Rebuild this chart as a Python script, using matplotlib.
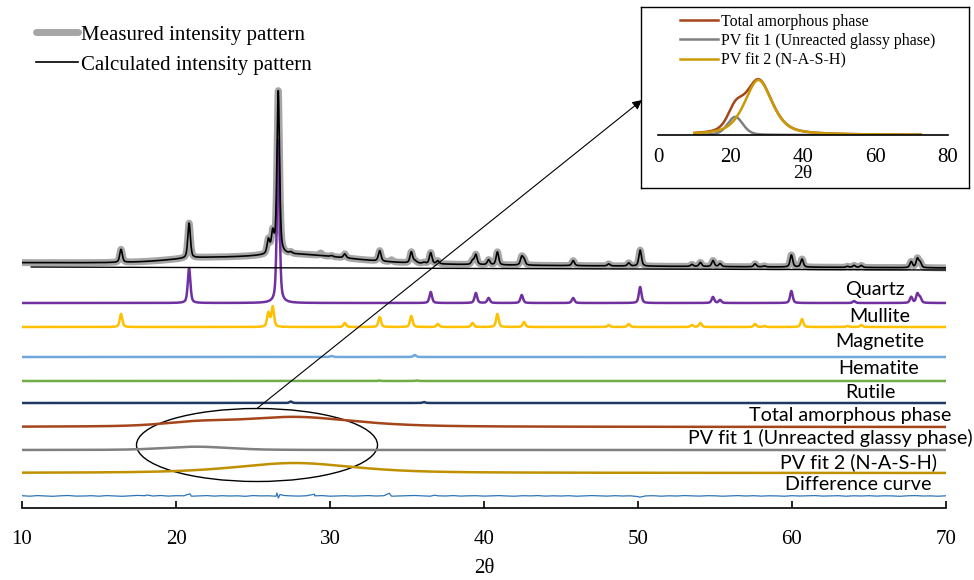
import numpy as np
import matplotlib.pyplot as plt
from matplotlib.patches import Ellipse

# Crystalline reflections: 2-theta position (deg) and peak height (plot units)
quartz_pos = [20.85, 26.64, 36.54, 39.47, 40.30, 42.45, 45.79, 50.14, 54.87,
              55.33, 59.96, 64.03, 67.74, 68.14, 68.32]
quartz_height = [35, 163, 11, 10, 5, 8, 5, 16, 6, 3, 12, 2, 6, 9, 5]

mullite_pos = [16.43, 26.00, 26.28, 30.96, 33.23, 35.28, 37.00, 39.26, 40.87,
               42.60, 48.10, 49.40, 53.50, 54.05, 57.60, 58.20, 60.65, 63.60, 64.50]
mullite_height = [13, 14, 20, 4, 10, 11, 3, 4, 13, 5, 2, 3, 2, 4, 3, 1, 8, 1, 2]

magnetite_pos = [30.10, 35.50]
magnetite_height = [1.0, 2.0]
hematite_pos = [33.20, 35.65]
hematite_height = [0.5, 0.5]
rutile_pos = [27.45, 36.10]
rutile_height = [1.5, 1.0]

# reflections seen in the measured pattern but not fitted
unassigned_pos = [29.40, 34.00]
unassigned_height = [2.5, 2.0]

# amorphous hump: two pseudo-Voigt components (centre, height, fwhm, eta)
pv1_params = (21.3, 3.3, 5.0, 0.3)
pv2_params = (27.7, 10.0, 9.0, 0.55)

# sloping background under the measured pattern (value at 10 and 70 deg)
background_ends = [245, 240]
bg_line_x = [10.6, 70.0]
bg_line_y = [241, 238]

# difference curve: residual every 0.5 deg plus a few sharp residual spikes
diff_jitter = [
    0.3, -0.2, 0.4, 0.1, -0.3, 0.2, 0.5, -0.1, 0.0, 0.3,
    -0.2, 0.4, 0.1, -0.3, 0.2, 0.6, 0.3, 0.0, 0.5, -0.1,
    0.3, 0.2, -0.2, 0.1, 0.4, -0.1, 0.3, 0.0, 0.2, -0.3,
    0.4, 0.1, 0.2, -0.2, 0.5, 0.1, -0.1, 0.3, 0.2, 0.4,
    -0.2, 0.1, 0.3, -0.1, 0.2, 0.4, 0.0, 0.3, -0.2, 0.1,
    0.3, 0.5, 0.1, -0.2, 0.2, 0.0, 0.4, -0.1, 0.2, 0.3,
    -0.1, 0.2, 0.4, 0.0, -0.2, 0.3, 0.1, 0.4, -0.1, 0.2,
    0.0, 0.3, -0.2, 0.1, 0.4, 0.2, -0.1, 0.3, 0.0, 0.2,
    -0.6, 0.1, 0.3, -0.2, 0.2, 0.0, 0.4, 0.1, -0.1, 0.3,
    0.2, -0.2, 0.1, 0.4, 0.0, 0.3, -0.1, 0.2, 0.1, -0.2,
    0.3, 0.0, 0.2, 0.4, -0.1, 0.1, 0.3, -0.2, 0.2, 0.0,
    0.3, -0.1, 0.2, 0.1, -0.3, 0.2, 0.4, 0.0, 0.1, -0.2,
    0.2,
]
diff_spike_x = [18.10, 20.90, 26.55, 26.65, 26.75, 29.00, 33.85, 36.80, 50.10]
diff_spike_y = [1.0, 2.2, 3.0, -2.0, 1.5, 1.8, 2.8, 0.8, -1.2]

# vertical offsets of the stacked traces
offset_quartz = 205
offset_mullite = 181
offset_magnetite = 151
offset_hematite = 127
offset_rutile = 105
offset_total = 81
offset_pv1 = 58
offset_pv2 = 35
offset_diff = 12

phase_labels = ["Quartz", "Mullite", "Magnetite", "Hematite", "Rutile",
                "Total amorphous phase", "PV fit 1 (Unreacted glassy phase)",
                "PV fit 2 (N-A-S-H)", "Difference curve"]
label_x = [65.4, 65.7, 65.7, 65.6, 65.1, 63.8, 62.5, 64.3, 64.3]
label_y = [218, 192, 166, 139, 116, 93, 70, 46, 23]

inset_ticks = [0, 20, 40, 60, 80]
main_ticks = [10, 20, 30, 40, 50, 60, 70]


def pseudo_voigt(x, center, height, fwhm, eta):
    u = (x - center) / (fwhm / 2)
    return height * (eta / (1 + u ** 2) + (1 - eta) * np.exp(-np.log(2) * u ** 2))


def phase_profile(x, positions, heights, fwhm=0.2, eta=0.5):
    y = np.zeros_like(x)
    for p, h in zip(positions, heights):
        y += pseudo_voigt(x, p, h, fwhm, eta)
    return y


tt = np.linspace(10, 70, 6001)
quartz = phase_profile(tt, quartz_pos, quartz_height)
mullite = phase_profile(tt, mullite_pos, mullite_height)
magnetite = phase_profile(tt, magnetite_pos, magnetite_height)
hematite = phase_profile(tt, hematite_pos, hematite_height)
rutile = phase_profile(tt, rutile_pos, rutile_height)
pv1 = pseudo_voigt(tt, *pv1_params)
pv2 = pseudo_voigt(tt, *pv2_params)
amorphous = pv1 + pv2

background = background_ends[0] + (background_ends[1] - background_ends[0]) * (tt - 10) / 60
calculated = background + amorphous + quartz + mullite + magnetite + hematite + rutile
measured = calculated + phase_profile(tt, unassigned_pos, unassigned_height)

diff_x = np.concatenate([np.arange(10, 70.01, 0.5), diff_spike_x])
diff_y = np.concatenate([diff_jitter, diff_spike_y])
order = np.argsort(diff_x)
diff_x, diff_y = diff_x[order], diff_y[order]

serif = ["Liberation Serif", "DejaVu Serif"]
sans = ["Lato", "DejaVu Sans"]

W, H = 974, 580
fig = plt.figure(figsize=(W / 100, H / 100), dpi=100)

# main stacked pattern
ax = fig.add_axes([22 / W, 72 / H, 924 / W, 428 / H])
ax.set_xlim(10, 70)
ax.set_ylim(0, 428)

l_meas, = ax.plot(tt, measured, color="#a6a6a6", lw=5, solid_capstyle="round",
                  label="Measured intensity pattern", zorder=2)
l_calc, = ax.plot(tt, calculated, color="black", lw=1.2,
                  label="Calculated intensity pattern", zorder=3)
ax.plot(bg_line_x, bg_line_y, color="black", lw=1.0, zorder=3)

ax.plot(tt, quartz + offset_quartz, color="#7030a0", lw=1.8)
ax.plot(tt, mullite + offset_mullite, color="#ffc000", lw=1.8)
ax.plot(tt, magnetite + offset_magnetite, color="#6fa8dc", lw=1.8)
ax.plot(tt, hematite + offset_hematite, color="#70ad47", lw=1.8)
ax.plot(tt, rutile + offset_rutile, color="#203864", lw=1.8)
ax.plot(tt, amorphous + offset_total, color="#a5451c", lw=1.8)
ax.plot(tt, pv1 + offset_pv1, color="#808080", lw=1.8)
ax.plot(tt, pv2 + offset_pv2, color="#bf9000", lw=1.8)
ax.plot(diff_x, diff_y + offset_diff, color="#2e75b6", lw=0.9)

for txt, x, y in zip(phase_labels, label_x, label_y):
    ax.text(x, y, txt, family=sans, fontsize=14.2, ha="center", va="center")

ax.add_patch(Ellipse((25.26, 63), 15.65, 73, fill=False, edgecolor="black", lw=1.0))
ax.annotate("", xy=(642 / W, 1 - 100 / H), xycoords="figure fraction",
            xytext=(25.3, 100), textcoords="data", annotation_clip=False,
            arrowprops=dict(arrowstyle="-|>", color="black", lw=0.8,
                            mutation_scale=14, shrinkA=0, shrinkB=0))

for s in ["top", "right", "left"]:
    ax.spines[s].set_visible(False)
ax.spines["bottom"].set_linewidth(1.2)
ax.set_yticks([])
ax.set_xticks(main_ticks)
ax.tick_params(axis="x", direction="in", length=5, width=1.2, pad=16)
for lab in ax.get_xticklabels():
    lab.set_family(serif)
    lab.set_fontsize(15)
ax.set_xlabel("2θ", family=serif, fontsize=15, labelpad=7)

fig.legend(handles=[l_meas, l_calc], loc="upper left",
           bbox_to_anchor=(36 / W, 1 - 25 / H), frameon=False,
           prop={"family": serif, "size": 15}, handlelength=2.0,
           handletextpad=0.15, labelspacing=0.5, borderpad=0, borderaxespad=0)

# inset with the amorphous components
box = fig.add_axes([641 / W, (H - 188) / H, 328 / W, 181 / H])
box.set_xticks([])
box.set_yticks([])
for s in box.spines.values():
    s.set_linewidth(1.0)

tt_in = np.linspace(10, 72.5, 1500)
pv1_in = pseudo_voigt(tt_in, *pv1_params)
pv2_in = pseudo_voigt(tt_in, *pv2_params)

inn = fig.add_axes([658 / W, (H - 135) / H, 290 / W, 125 / H])
inn.patch.set_alpha(0)
inn.set_xlim(0, 80)
inn.set_ylim(0, 125 / 5.5)
inn.plot(tt_in, pv1_in + pv2_in, color="#a5451c", lw=1.8, label="Total amorphous phase")
inn.plot(tt_in, pv1_in, color="#808080", lw=1.8, label="PV fit 1 (Unreacted glassy phase)")
inn.plot(tt_in, pv2_in, color="#c99a06", lw=1.8, label="PV fit 2 (N-A-S-H)")
for s in ["top", "right", "left"]:
    inn.spines[s].set_visible(False)
inn.spines["bottom"].set_linewidth(1.2)
inn.set_yticks([])
inn.set_xticks(inset_ticks)
inn.tick_params(axis="x", length=0, pad=9)
for lab in inn.get_xticklabels():
    lab.set_family(serif)
    lab.set_fontsize(15)
inn.set_xlabel("2θ", family=serif, fontsize=14, labelpad=-1)
inn.legend(loc="upper left", bbox_to_anchor=(0.076, 0.97), frameon=False,
           prop={"family": serif, "size": 11.5}, handlelength=2.4,
           handletextpad=0.15, labelspacing=0.2, borderpad=0, borderaxespad=0)

fig.savefig("out.png", dpi=100)
